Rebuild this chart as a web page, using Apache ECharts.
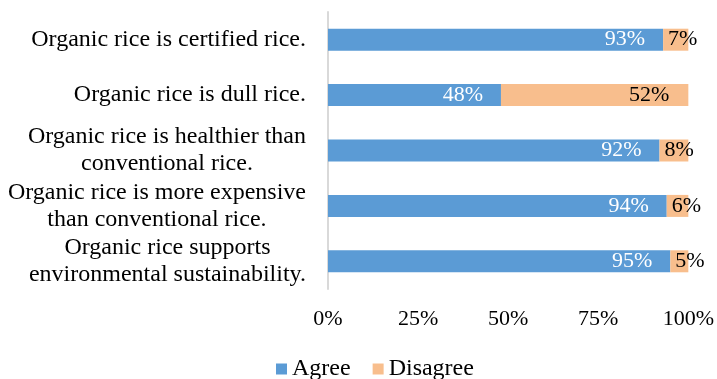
<!DOCTYPE html>
<html>
<head>
<meta charset="utf-8">
<script src="https://cdn.jsdelivr.net/npm/echarts@6/dist/echarts.min.js"></script>
<style>html,body{margin:0;padding:0;background:#fff;}#c{width:717px;height:379px;}</style>
</head>
<body>
<div id="c"></div>
<script>
var categories = [
  "Organic rice is certified rice.",
  "Organic rice is dull rice.",
  "Organic rice is healthier than\nconventional rice.",
  "Organic rice is more expensive\nthan conventional rice.",
  "Organic rice supports\nenvironmental sustainability."
];
var agree = [93, 48, 92, 94, 95];
var disagree = [7, 52, 8, 6, 5];
var ticks = [0, 25, 50, 75, 100];

var FONT = '"Liberation Serif", "Times New Roman", serif';
var FS = 22;
var FS_TXT = 24;

var chart = echarts.init(document.getElementById('c'), null, {renderer: 'canvas'});

var disagreeData = disagree.map(function (v) {
  if (v < 20) {
    return {value: v, label: {position: 'insideLeft', distance: 5}};
  }
  return {value: v, label: {position: 'insideRight', distance: 19}};
});

chart.setOption({
  backgroundColor: '#fff',
  animation: false,
  textStyle: {fontFamily: FONT},
  grid: {left: 328, right: 26, top: 12, bottom: 90, containLabel: false},
  legend: {
    data: ['Agree', 'Disagree'],
    left: 271, top: 352,
    itemWidth: 11, itemHeight: 11, itemGap: 22,
    icon: 'rect',
    textStyle: {fontFamily: FONT, fontSize: FS_TXT, color: '#000'}
  },
  xAxis: {
    type: 'value', min: 0, max: 100, interval: 25,
    axisLine: {show: false}, axisTick: {show: false}, splitLine: {show: false},
    axisLabel: {
      fontFamily: FONT, fontSize: FS, color: '#000', margin: 19,
      formatter: function (v) { return ticks.indexOf(v) >= 0 ? v + '%' : ''; }
    }
  },
  yAxis: {
    type: 'category', inverse: true, data: categories,
    axisLine: {show: true, lineStyle: {color: '#D9D9D9', width: 2}},
    axisTick: {show: false},
    axisLabel: {
      margin: 22, align: 'right', color: '#000',
      fontFamily: FONT, fontSize: FS_TXT, lineHeight: 27,
      formatter: function (v) {
        return v.split('\n').map(function (s) { return '{c|' + s + '}'; }).join('\n');
      },
      rich: {c: {align: 'center', fontFamily: FONT, fontSize: FS_TXT, lineHeight: 27, color: '#000'}}
    }
  },
  series: [
    {
      name: 'Agree', type: 'bar', stack: 'total', barWidth: 22,
      itemStyle: {color: '#5B9BD5'},
      label: {show: true, position: 'insideRight', distance: 18, color: '#fff',
        fontFamily: FONT, fontSize: FS, formatter: '{c}%'},
      data: agree
    },
    {
      name: 'Disagree', type: 'bar', stack: 'total', barWidth: 22,
      itemStyle: {color: '#F8BE8D'},
      label: {show: true, color: '#000', fontFamily: FONT, fontSize: FS, formatter: '{c}%'},
      data: disagreeData
    }
  ]
});
</script>
</body>
</html>
